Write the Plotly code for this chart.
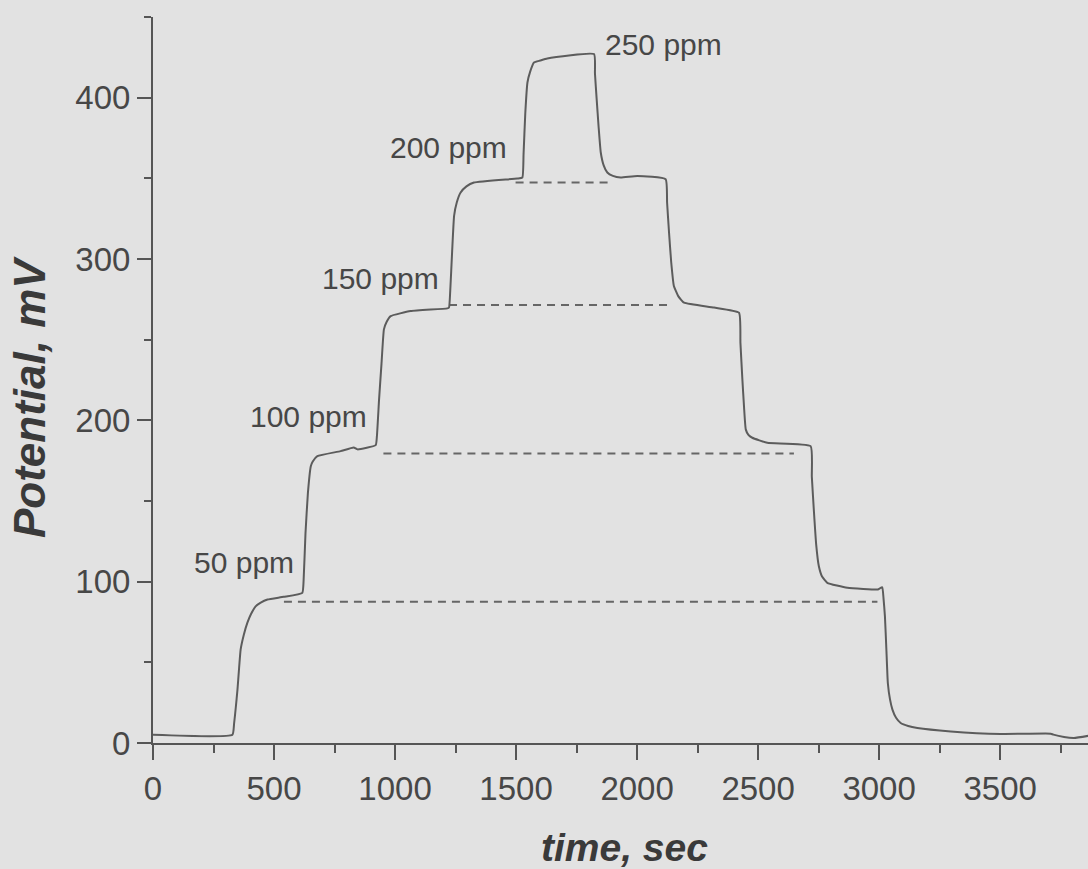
import plotly.graph_objects as go

# ---- data ----
time_s = [0, 328, 335, 342, 349, 355, 362, 375, 390, 405, 424, 445, 473, 540, 617,
          622, 630, 640, 652, 660, 679, 775, 829, 845, 920,
          925, 934, 944, 954, 965, 982, 1065, 1216,
          1223, 1228, 1236, 1244, 1255, 1271, 1295, 1326, 1505,
          1526, 1531, 1538, 1547, 1558, 1574, 1600, 1629, 1822,
          1826, 1833, 1841, 1850, 1862, 1877, 1900, 1932, 2001, 2118,
          2124, 2132, 2141, 2152, 2170, 2194, 2318, 2421,
          2427, 2435, 2442, 2449, 2460, 2476, 2538, 2717,
          2722, 2731, 2740, 2751, 2765, 2786, 2869, 2993, 2999, 3013,
          3018, 3024, 3030, 3036, 3045, 3055, 3070, 3089, 3120, 3158, 3296,
          3502, 3709, 3720, 3764, 3805, 3866]
potential_mv = [5.1, 5.1, 12.0, 22.0, 33.1, 45.0, 57.9, 67.0, 74.6, 80.0, 84.7, 87.0, 88.9, 90.6, 93.1,
                100.0, 130.0, 155.0, 171.6, 174.5, 177.8, 180.9, 183.2, 182.0, 184.6,
                190.0, 213.0, 235.0, 256.4, 261.0, 264.6, 267.7, 269.4,
                269.9, 280.0, 305.0, 326.7, 335.0, 341.2, 345.0, 347.4, 349.9,
                350.5, 365.0, 390.0, 409.4, 416.0, 421.8, 423.0, 424.3, 427.0,
                415.0, 399.1, 382.0, 366.0, 358.0, 353.6, 351.5, 350.5, 351.5, 349.4,
                335.0, 316.4, 298.0, 283.3, 277.0, 272.9, 269.9, 266.7,
                248.0, 225.4, 208.0, 194.4, 191.0, 189.2, 186.1, 184.0,
                165.0, 142.7, 123.0, 109.6, 103.0, 99.3, 96.2, 95.1, 95.5, 96.5,
                90.0, 78.5, 58.0, 37.2, 27.0, 20.7, 15.6, 12.4, 10.5, 9.3, 7.2,
                5.6, 5.8, 5.2, 3.7, 3.1, 4.5]

level_mv = [87.6, 179.5, 271.5, 347.4]
level_start_s = [541, 952, 1223, 1498]
level_end_s = [2993, 2648, 2146, 1881]

label_text = ["50 ppm", "100 ppm", "150 ppm", "200 ppm", "250 ppm"]
label_t = [374, 641, 941, 1222, 2110]
label_mv = [111.7, 202.1, 288.2, 369.1, 433.2]

x_tick_vals = [0, 500, 1000, 1500, 2000, 2500, 3000, 3500]
y_tick_vals = [0, 100, 200, 300, 400]
x_title = "time, sec"
y_title = "Potential, mV"

# ---- styling ----
BG = "#e2e2e2"
INK = "#555555"
TXT = "#474747"
FONT = "Liberation Sans, Arial, sans-serif"

fig = go.Figure()

for lv, xs, xe in zip(level_mv, level_start_s, level_end_s):
    fig.add_trace(go.Scatter(x=[xs, xe], y=[lv, lv], mode="lines",
                             line=dict(color="#666666", width=2, dash="8px,6px"),
                             hoverinfo="skip", showlegend=False))

fig.add_trace(go.Scatter(x=time_s, y=potential_mv, mode="lines",
                         line=dict(color="#5c5c5c", width=2, shape="spline", smoothing=0.4),
                         showlegend=False))

for txt, t, v in zip(label_text, label_t, label_mv):
    fig.add_annotation(x=t, y=v, text=txt, showarrow=False,
                       xanchor="center", yanchor="middle",
                       font=dict(family=FONT, size=30, color=TXT))

fig.add_annotation(xref="paper", yref="paper", x=0.5048, y=-0.1446,
                   text="<b><i>" + x_title + "</i></b>", showarrow=False,
                   xanchor="center", yanchor="middle",
                   font=dict(family=FONT, size=39, color="#3a3a3a"))
fig.add_annotation(xref="paper", yref="paper", x=-0.132, y=0.476,
                   text="<b><i>" + y_title + "</i></b>", showarrow=False,
                   textangle=-90, xanchor="center", yanchor="middle",
                   font=dict(family=FONT, size=44, color="#3a3a3a"))

fig.update_layout(
    width=1088, height=869,
    margin=dict(l=153, r=0, t=17, b=126, pad=0),
    paper_bgcolor=BG, plot_bgcolor=BG,
    showlegend=False,
)
fig.update_xaxes(range=[0, 3863], tickvals=x_tick_vals,
                 showgrid=False, zeroline=False,
                 showline=True, linecolor=INK, linewidth=2,
                 ticks="outside", ticklen=15, tickwidth=2, tickcolor=INK,
                 minor=dict(dtick=250, tick0=0, ticks="outside", ticklen=8,
                            tickwidth=2, tickcolor=INK, showgrid=False),
                 tickfont=dict(family=FONT, size=33, color=TXT))
fig.update_yaxes(range=[0, 450], tickvals=y_tick_vals,
                 showgrid=False, zeroline=False,
                 showline=True, linecolor=INK, linewidth=2,
                 ticks="outside", ticklen=14, tickwidth=2, tickcolor=INK,
                 minor=dict(dtick=50, tick0=0, ticks="outside", ticklen=7,
                            tickwidth=2, tickcolor=INK, showgrid=False),
                 tickfont=dict(family=FONT, size=33, color=TXT))

fig.write_html("out.html")
